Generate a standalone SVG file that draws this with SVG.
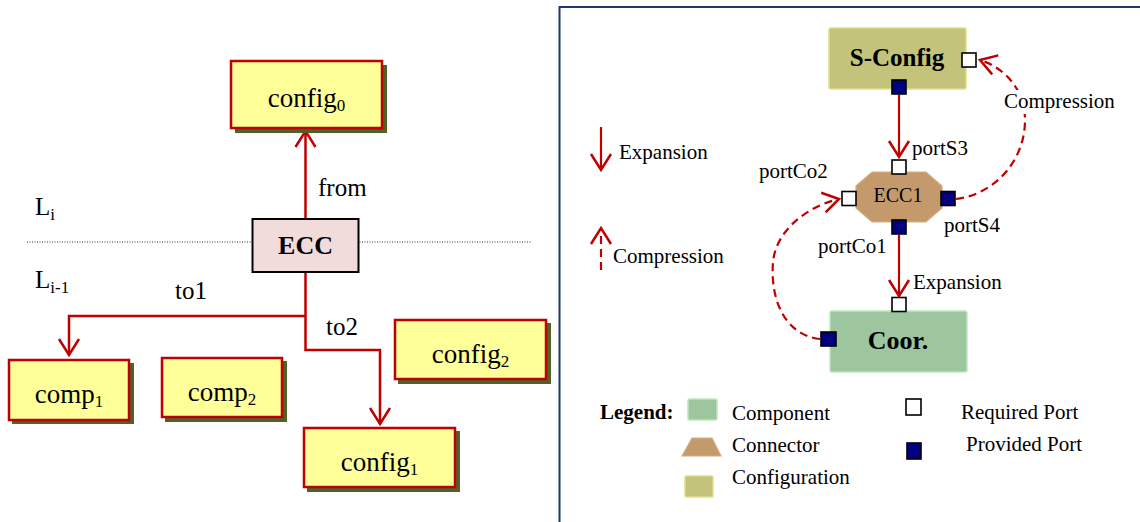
<svg xmlns="http://www.w3.org/2000/svg" width="1140" height="522" viewBox="0 0 1140 522">
<style>
text{font-family:"Liberation Serif","Times New Roman",serif;fill:#000}
.ybox{fill:#ffff99;stroke:#c00000;stroke-width:2.5}
.shadow{fill:#4f6228}
.big{font-size:27px}
.lbl{font-size:25px}
.sm{font-size:21px}
.sub{font-size:17px}
.b{font-weight:bold}
.conn{fill:none;stroke:#c00000;stroke-width:2.5}
.conn2{fill:none;stroke:#c00000;stroke-width:2.2}
.dash{fill:none;stroke:#c00000;stroke-width:2.2;stroke-dasharray:8 5}
.req{fill:#fff;stroke:#000;stroke-width:1.6}
.prov{fill:#000080;stroke:#000;stroke-width:1.6}
.comp{fill:#9dc69e;stroke:#bfe5bf;stroke-width:1.5}
.cfg{fill:#c3c37b;stroke:#dede88;stroke-width:1.5}
.cnr{fill:#c49a6d;stroke:#d3ad84;stroke-width:1.2}
</style>
<defs>
<marker id="arr" markerUnits="userSpaceOnUse" markerWidth="22" markerHeight="24" viewBox="-19 -12 22 24" refX="0" refY="0" orient="auto">
<path d="M-16,-10 L0,0 L-16,10" fill="none" stroke="#c00000" stroke-width="2.5"/>
</marker>
</defs>
<rect width="1140" height="522" fill="#fff"/>
<!-- right panel frame -->
<rect x="559.5" y="7" width="600" height="540" fill="none" stroke="#1f3864" stroke-width="2"/>
<!-- layer divider -->
<line x1="27" y1="242" x2="532" y2="242" stroke="#333" stroke-width="1" stroke-dasharray="1 1.5"/>
<text id="Li" class="lbl" x="35" y="215">L<tspan class="sub" dy="5">i</tspan></text>
<text id="Li1" class="lbl" x="35" y="288">L<tspan class="sub" dy="5">i-1</tspan></text>

<g id="connectors">
<path class="conn" d="M305.5,219 V131" marker-end="url(#arr)"/>
<path class="conn" d="M305.5,272 V350 H380 V424" marker-end="url(#arr)"/>
<path class="conn" d="M305.5,316 H69 V355" marker-end="url(#arr)"/>
<text class="lbl" x="318" y="196">from</text>
<text class="lbl" x="175" y="299">to1</text>
<text class="lbl" x="326" y="335">to2</text>
<path class="conn2" d="M899,95 V157" marker-end="url(#arr)"/>
<path class="conn2" d="M899,235 V296" marker-end="url(#arr)"/>
<path class="dash" d="M820,339 C785,335 770,300 773,262 C776,230 808,206 839,199" marker-end="url(#arr)"/>
<path class="dash" d="M956,199 C992,195 1025,163 1025,120 C1025,90 1005,68 980,60" marker-end="url(#arr)"/>
<rect x="1001" y="90" width="116" height="24" fill="#fff"/>
<text class="sm" x="1004" y="108">Compression</text>
<text class="sm" x="913" y="289">Expansion</text>
</g>

<g id="config0">
<rect class="shadow" x="235" y="65" width="152" height="68"/>
<rect class="ybox" x="231" y="61" width="151" height="67"/>
<text class="big" x="306.5" y="107" text-anchor="middle">config<tspan class="sub" dy="4">0</tspan></text>
</g>
<g id="ECC">
<rect x="252.5" y="219" width="106" height="53" fill="#f2dcdb" stroke="#000" stroke-width="2"/>
<text class="b" font-size="26" x="305.5" y="254" text-anchor="middle">ECC</text>
</g>
<g id="comp1">
<rect class="shadow" x="12" y="363" width="122" height="61"/>
<rect class="ybox" x="9" y="360" width="120" height="60"/>
<text class="big" x="69" y="403" text-anchor="middle">comp<tspan class="sub" dy="4">1</tspan></text>
</g>
<g id="comp2">
<rect class="shadow" x="165" y="361" width="122" height="61"/>
<rect class="ybox" x="162" y="358" width="120" height="59"/>
<text class="big" x="222" y="401" text-anchor="middle">comp<tspan class="sub" dy="4">2</tspan></text>
</g>
<g id="config2">
<rect class="shadow" x="398" y="323" width="153" height="61"/>
<rect class="ybox" x="395" y="320" width="151" height="59"/>
<text class="big" x="470.5" y="363" text-anchor="middle">config<tspan class="sub" dy="4">2</tspan></text>
</g>
<g id="config1">
<rect class="shadow" x="307" y="431" width="153" height="61"/>
<rect class="ybox" x="304" y="428" width="151" height="59"/>
<text class="big" x="379.5" y="471" text-anchor="middle">config<tspan class="sub" dy="4">1</tspan></text>
</g>

<!-- right panel -->
<g id="legend-arrows">
<path class="conn2" d="M601,127 V170" marker-end="url(#arr)"/>
<text class="sm" x="619" y="159">Expansion</text>
<path class="dash" d="M601,270 V228" marker-end="url(#arr)"/>
<text class="sm" x="613" y="263">Compression</text>
</g>
<g id="SConfig">
<rect class="cfg" x="829" y="28" width="137" height="61" rx="2"/>
<text class="lbl b" x="897" y="66" text-anchor="middle">S-Config</text>
<rect class="prov" x="892" y="80" width="14" height="14"/>
<rect class="req" x="962" y="53" width="14" height="14"/>
</g>
<g id="ECC1">
<polygon class="cnr" points="856,186 872,172 926,172 942,186 942,208 926,222 872,222 856,208"/>
<text x="898" y="202" font-size="20" text-anchor="middle">ECC1</text>
<rect class="req" x="892" y="160" width="14" height="14"/>
<rect class="req" x="842" y="191.5" width="14" height="14"/>
<rect class="prov" x="941" y="191.5" width="14" height="14"/>
<rect class="prov" x="892" y="220" width="14" height="14"/>
<text class="sm" x="912" y="155">portS3</text>
<text class="sm" x="759" y="178">portCo2</text>
<text class="sm" x="944" y="232">portS4</text>
<text class="sm" x="818" y="253">portCo1</text>
</g>
<g id="Coor">
<rect class="comp" x="830" y="311" width="137" height="61" rx="2"/>
<text x="898" y="349" font-size="26" font-weight="bold" text-anchor="middle">Coor.</text>
<rect class="req" x="892" y="297.5" width="14" height="14"/>
<rect class="prov" x="821" y="332" width="15" height="14"/>
</g>
<g id="legend">
<text class="sm b" x="600" y="419">Legend:</text>
<rect class="comp" x="688" y="399" width="29" height="21" rx="1.5"/>
<text class="sm" x="732" y="420">Component</text>
<polygon class="cnr" points="682,456 692,438 712,438 721,456"/>
<text class="sm" x="732" y="452">Connector</text>
<rect class="cfg" x="685" y="476" width="28" height="21" rx="1.5"/>
<text class="sm" x="732" y="484">Configuration</text>
<rect class="req" x="906" y="399" width="15" height="16"/>
<text class="sm" x="961" y="419">Required Port</text>
<rect class="prov" x="907" y="443" width="14" height="16"/>
<text class="sm" x="966" y="451">Provided Port</text>
</g>
</svg>
